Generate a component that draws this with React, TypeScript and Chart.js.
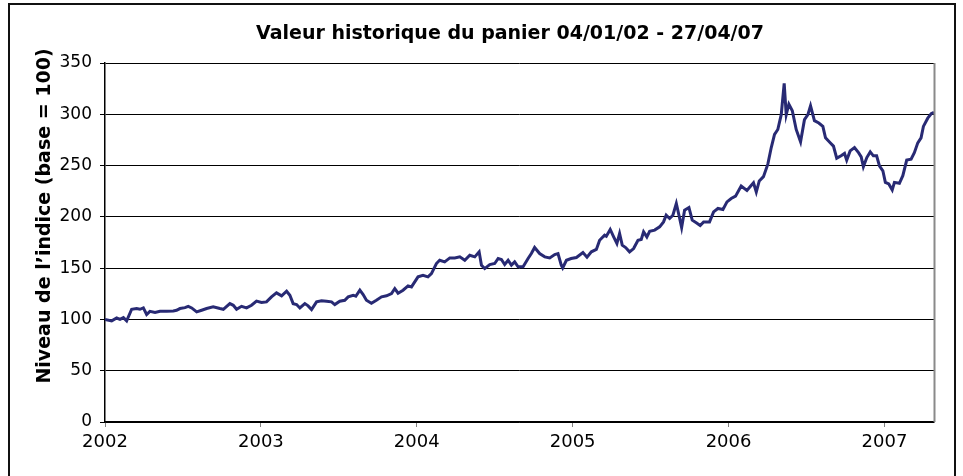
import { useEffect, useRef } from "react";
import { Chart, registerables } from "chart.js";

Chart.register(...registerables);

const chartTitle = "Valeur historique du panier 04/01/02 - 27/04/07";
const yAxisTitle = "Niveau de l’indice (base = 100)";
const yearTicks = [2002, 2003, 2004, 2005, 2006, 2007];
const valueTicks = [0, 50, 100, 150, 200, 250, 300, 350];

// decimal year of each reading (04/01/2002 .. 27/04/2007)
const years = [
  2002.000, 2002.043, 2002.075, 2002.096, 2002.118, 2002.139, 2002.171, 2002.203, 2002.224, 2002.246,
  2002.267, 2002.288, 2002.321, 2002.353, 2002.395, 2002.438, 2002.459, 2002.481, 2002.513, 2002.534,
  2002.556, 2002.588, 2002.620, 2002.652, 2002.694, 2002.737, 2002.759, 2002.801, 2002.823, 2002.844,
  2002.876, 2002.908, 2002.940, 2002.972, 2003.004, 2003.036, 2003.068, 2003.100, 2003.133, 2003.165,
  2003.186, 2003.207, 2003.229, 2003.250, 2003.282, 2003.303, 2003.325, 2003.357, 2003.389, 2003.421,
  2003.453, 2003.474, 2003.506, 2003.538, 2003.560, 2003.592, 2003.609, 2003.635, 2003.656, 2003.677,
  2003.709, 2003.741, 2003.774, 2003.806, 2003.838, 2003.859, 2003.880, 2003.912, 2003.944, 2003.966,
  2003.987, 2004.008, 2004.040, 2004.072, 2004.094, 2004.126, 2004.147, 2004.179, 2004.212, 2004.244,
  2004.276, 2004.308, 2004.340, 2004.372, 2004.400, 2004.415, 2004.436, 2004.468, 2004.500, 2004.522,
  2004.543, 2004.564, 2004.586, 2004.607, 2004.628, 2004.650, 2004.682, 2004.714, 2004.735, 2004.756,
  2004.788, 2004.821, 2004.853, 2004.885, 2004.906, 2004.927, 2004.936, 2004.960, 2004.990, 2005.024,
  2005.066, 2005.092, 2005.120, 2005.152, 2005.173, 2005.205, 2005.216, 2005.241, 2005.263, 2005.284,
  2005.301, 2005.318, 2005.340, 2005.365, 2005.391, 2005.419, 2005.440, 2005.455, 2005.476, 2005.494,
  2005.526, 2005.558, 2005.583, 2005.600, 2005.622, 2005.643, 2005.665, 2005.682, 2005.699, 2005.718,
  2005.746, 2005.767, 2005.793, 2005.818, 2005.840, 2005.878, 2005.904, 2005.932, 2005.964, 2005.990,
  2006.017, 2006.045, 2006.081, 2006.118, 2006.145, 2006.160, 2006.178, 2006.197, 2006.224, 2006.252,
  2006.274, 2006.295, 2006.316, 2006.338, 2006.357, 2006.370, 2006.387, 2006.409, 2006.434, 2006.462,
  2006.487, 2006.509, 2006.526, 2006.551, 2006.579, 2006.605, 2006.622, 2006.652, 2006.673, 2006.694,
  2006.722, 2006.744, 2006.758, 2006.780, 2006.808, 2006.835, 2006.851, 2006.865, 2006.887, 2006.909,
  2006.929, 2006.950, 2006.968, 2006.990, 2007.006, 2007.028, 2007.050, 2007.064, 2007.096, 2007.118,
  2007.143, 2007.171, 2007.192, 2007.214, 2007.235, 2007.250, 2007.278, 2007.300, 2007.318,
];

// index level (base = 100)
const values = [
  100.0, 98.6, 101.4, 100.1, 101.8, 98.6, 109.9, 110.6, 109.9, 111.2,
  104.8, 107.9, 106.7, 107.9, 107.9, 108.3, 108.9, 110.6, 111.5, 112.8,
  111.2, 107.3, 108.9, 110.6, 112.2, 110.6, 109.9, 115.4, 113.8, 109.9,
  112.8, 111.2, 113.8, 117.8, 116.5, 117.1, 122.0, 125.9, 123.0, 127.5,
  123.6, 115.4, 114.5, 111.2, 115.4, 113.2, 109.6, 117.1, 118.1, 117.8,
  117.1, 114.5, 117.7, 118.7, 122.0, 123.6, 122.6, 128.5, 124.3, 118.7,
  115.8, 118.7, 122.0, 123.0, 125.2, 130.1, 125.6, 128.5, 132.7, 131.7,
  136.6, 141.5, 143.1, 141.5, 144.7, 154.5, 157.7, 156.1, 160.0, 160.0,
  161.0, 157.7, 162.6, 161.0, 165.9, 152.9, 149.6, 153.5, 154.5, 159.4,
  158.4, 153.5, 157.7, 152.9, 156.1, 151.3, 151.3, 159.4, 164.2, 170.1,
  164.2, 161.0, 160.0, 163.2, 164.2, 152.9, 150.2, 157.7, 159.4, 160.4,
  165.2, 160.7, 165.9, 168.2, 177.2, 182.1, 181.1, 187.7, 180.5, 174.0,
  183.8, 172.4, 170.1, 165.9, 169.1, 177.2, 177.9, 185.4, 180.5, 186.0,
  187.1, 190.3, 195.1, 201.6, 198.4, 201.6, 213.0, 201.6, 189.6, 206.5,
  209.1, 196.8, 194.2, 191.6, 195.1, 195.1, 204.9, 208.2, 207.2, 214.6,
  217.9, 220.2, 230.0, 225.8, 230.6, 233.2, 224.2, 235.0, 239.2, 251.4,
  267.6, 280.4, 285.2, 299.6, 330.2, 299.6, 309.9, 303.4, 285.2, 273.2,
  294.8, 299.6, 308.2, 293.8, 291.5, 288.2, 277.0, 272.3, 269.0, 257.2,
  259.5, 261.8, 255.2, 264.3, 267.5, 262.4, 258.5, 248.8, 257.8, 263.3,
  259.5, 259.5, 249.7, 244.9, 233.6, 232.1, 226.3, 233.6, 232.7, 240.1,
  255.3, 256.2, 262.6, 272.2, 277.0, 288.2, 296.2, 300.5, 302.0,
];

const FONT = "'DejaVu Sans', Verdana, sans-serif";

const decorPlugin = {
  id: "decor",
  beforeDraw(chart: any) {
    const ctx = chart.ctx as CanvasRenderingContext2D;
    ctx.save();
    ctx.fillStyle = "#ffffff";
    ctx.fillRect(0, 0, chart.width, chart.height);
    ctx.strokeStyle = "#111111";
    ctx.lineWidth = 2;
    ctx.strokeRect(9, 4, 946, 520);
    ctx.restore();
  },
  afterDraw(chart: any) {
    const ctx = chart.ctx as CanvasRenderingContext2D;
    const { right, top, bottom } = chart.chartArea;
    ctx.save();
    ctx.strokeStyle = "#8a8a8a";
    ctx.lineWidth = 2;
    ctx.beginPath();
    ctx.moveTo(right + 0.5, top);
    ctx.lineTo(right + 0.5, bottom);
    ctx.stroke();

    ctx.fillStyle = "#000000";
    ctx.font = `bold 19px ${FONT}`;
    ctx.textAlign = "center";
    ctx.textBaseline = "alphabetic";
    ctx.fillText(chartTitle, 510, 39);

    ctx.translate(45, 216);
    ctx.rotate(-Math.PI / 2);
    ctx.textBaseline = "middle";
    ctx.font = `bold 19px ${FONT}`;
    ctx.fillText(yAxisTitle, 0, 0);
    ctx.restore();
  },
};

export default function App() {
  const ref = useRef<HTMLCanvasElement | null>(null);

  useEffect(() => {
    if (!ref.current) return;
    const chart = new Chart(ref.current, {
      type: "line",
      data: {
        datasets: [
          {
            data: years.map((x, i) => ({ x, y: values[i] })),
            borderColor: "#282a74",
            borderWidth: 3,
            pointRadius: 0,
            tension: 0,
            fill: false,
          },
        ],
      },
      options: {
        responsive: false,
        maintainAspectRatio: false,
        animation: false,
        events: [],
        layout: { padding: { top: 63, right: 29, bottom: 0, left: 0 } },
        plugins: {
          legend: { display: false },
          tooltip: { enabled: false },
          title: { display: false },
        },
        scales: {
          x: {
            type: "linear",
            min: 2002,
            max: 2007.318,
            afterFit: (s: any) => {
              s.height = 54;
            },
            afterBuildTicks: (s: any) => {
              s.ticks = yearTicks.map((v) => ({ value: v }));
            },
            ticks: {
              autoSkip: false,
              maxRotation: 0,
              padding: 5,
              color: "#000",
              font: { family: FONT, size: 18 },
              callback: (v: any) => String(v),
            },
            grid: {
              drawOnChartArea: false,
              drawTicks: true,
              tickLength: 5,
              tickColor: "#808080",
              tickWidth: 1,
            },
            border: { display: true, color: "#000", width: 1.5 },
          },
          y: {
            type: "linear",
            min: 0,
            max: 350,
            afterFit: (s: any) => {
              s.width = 105;
            },
            afterBuildTicks: (s: any) => {
              s.ticks = valueTicks.map((v) => ({ value: v }));
            },
            ticks: {
              padding: 8,
              color: "#000",
              font: { family: FONT, size: 17 },
              callback: (v: any) => String(v),
            },
            grid: {
              color: "#000",
              lineWidth: 1,
              drawTicks: true,
              tickLength: 5,
              tickColor: "#000",
            },
            border: { display: true, color: "#000", width: 1.5 },
          },
        },
      },
      plugins: [decorPlugin],
    });
    return () => chart.destroy();
  }, []);

  return (
    <canvas
      ref={ref}
      width={963}
      height={476}
      style={{ position: "fixed", left: 0, top: 0, width: 963, height: 476 }}
    />
  );
}
